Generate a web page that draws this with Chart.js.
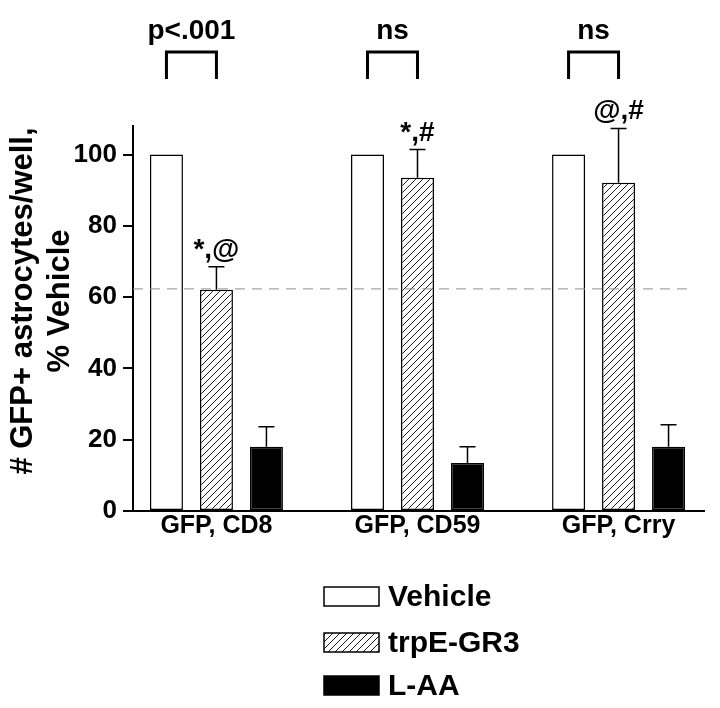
<!DOCTYPE html>
<html><head><meta charset="utf-8">
<script src="https://cdn.jsdelivr.net/npm/chart.js@4.4.1/dist/chart.umd.min.js"></script>
<style>html,body{margin:0;padding:0;background:#fff;}</style>
</head><body>
<canvas id="c" width="720" height="708" style="width:720px;height:708px;display:block"></canvas>
<script>
const categories = ['GFP, CD8', 'GFP, CD59', 'GFP, Crry'];
const seriesNames = ['Vehicle', 'trpE-GR3', 'L-AA'];
const vehicle = [100, 100, 100];
const trpE = [62.1, 93.5, 92.1];
const laa = [18.0, 13.5, 18.0];
const trpEErrTop = [68.5, 101.4, 107.3];
const laaErrTop = [23.6, 18.0, 24.2];
const trpEMarks = ['*,@', '*,#', '@,#'];
const pLabels = ['p<.001', 'ns', 'ns'];
const yTicks = [0, 20, 40, 60, 80, 100];
const refLine = 62.3;
const yTitle = ['# GFP+ astrocytes/well,', '% Vehicle'];

const FONT = "'Liberation Sans', Arial, Helvetica, sans-serif";
const canvas = document.getElementById('c');
const mainCtx = canvas.getContext('2d');

function makeHatch() {
  const s = 7;
  const c = document.createElement('canvas');
  c.width = s; c.height = s;
  const g = c.getContext('2d');
  g.fillStyle = '#fff'; g.fillRect(0, 0, s, s);
  g.strokeStyle = '#000'; g.lineWidth = 0.9;
  g.beginPath();
  g.moveTo(0, s); g.lineTo(s, 0);
  g.moveTo(-1, 1); g.lineTo(1, -1);
  g.moveTo(s - 1, s + 1); g.lineTo(s + 1, s - 1);
  g.stroke();
  return mainCtx.createPattern(c, 'repeat');
}
const hatch = makeHatch();
const fills = ['#ffffff', hatch, '#000000'];

const toXY = arr => arr.map((v, i) => ({ x: i, y: v }));

const annot = {
  id: 'annot',
  afterDatasetsDraw(chart) {
    const ctx = chart.ctx;
    const ys = chart.scales.y;
    const area = chart.chartArea;
    ctx.save();
    // reference dashed line
    const yr = ys.getPixelForValue(refLine);
    ctx.strokeStyle = '#8f8f8f'; ctx.lineWidth = 1; ctx.setLineDash([10, 7]);
    ctx.beginPath(); ctx.moveTo(area.left, yr); ctx.lineTo(area.right - 17, yr); ctx.stroke();
    ctx.setLineDash([]);
    // error bars
    const errSets = [[1, trpEErrTop], [2, laaErrTop]];
    ctx.strokeStyle = '#000'; ctx.lineWidth = 1.5;
    errSets.forEach(([di, tops]) => {
      const meta = chart.getDatasetMeta(di);
      meta.data.forEach((bar, i) => {
        const yt = ys.getPixelForValue(tops[i]);
        ctx.beginPath();
        ctx.moveTo(bar.x, bar.y); ctx.lineTo(bar.x, yt);
        ctx.moveTo(bar.x - 8, yt); ctx.lineTo(bar.x + 8, yt);
        ctx.stroke();
      });
    });
    // marks above trpE bars
    ctx.fillStyle = '#000';
    ctx.font = 'bold 28px ' + FONT;
    ctx.textAlign = 'center'; ctx.textBaseline = 'alphabetic';
    const m1 = chart.getDatasetMeta(1);
    m1.data.forEach((bar, i) => {
      const yt = ys.getPixelForValue(trpEErrTop[i]);
      ctx.fillText(trpEMarks[i], bar.x, yt - 9);
    });
    // brackets and p labels
    const m0 = chart.getDatasetMeta(0);
    ctx.lineWidth = 3;
    m0.data.forEach((bar, i) => {
      const x1 = bar.x, x2 = m1.data[i].x;
      const top = area.top - 74, bot = area.top - 47;
      ctx.beginPath();
      ctx.moveTo(x1, bot); ctx.lineTo(x1, top); ctx.lineTo(x2, top); ctx.lineTo(x2, bot);
      ctx.stroke();
      ctx.font = 'bold 28px ' + FONT;
      ctx.fillText(pLabels[i], (x1 + x2) / 2, area.top - 87);
    });
    // y title
    ctx.font = 'bold 31px ' + FONT;
    ctx.save();
    ctx.translate(32, 301); ctx.rotate(-Math.PI / 2);
    ctx.fillText(yTitle[0], 0, 0);
    ctx.restore();
    ctx.save();
    ctx.translate(69, 301); ctx.rotate(-Math.PI / 2);
    ctx.fillText(yTitle[1], 0, 0);
    ctx.restore();
    // legend
    const boxes = [[587, 19], [633, 19], [676, 19]];
    ctx.font = 'bold 30px ' + FONT;
    ctx.textAlign = 'left'; ctx.textBaseline = 'middle';
    seriesNames.forEach((n, i) => {
      const [by, bh] = boxes[i];
      ctx.fillStyle = fills[i];
      ctx.fillRect(324, by, 55, bh);
      ctx.strokeStyle = '#000'; ctx.lineWidth = 1.5;
      ctx.strokeRect(324, by, 55, bh);
      ctx.fillStyle = '#000';
      ctx.fillText(n, 388, by + bh / 2 + 1);
    });
    ctx.restore();
  }
};

const tickFont = { family: FONT, size: 26, weight: 'bold' };
const xTickFont = { family: FONT, size: 25, weight: 'bold' };

new Chart(canvas, {
  type: 'bar',
  data: {
    datasets: [
      { label: seriesNames[0], data: toXY(vehicle), backgroundColor: fills[0], borderColor: '#000', borderWidth: 1.5, borderSkipped: false },
      { label: seriesNames[1], data: toXY(trpE), backgroundColor: fills[1], borderColor: '#000', borderWidth: 1.5, borderSkipped: false },
      { label: seriesNames[2], data: toXY(laa), backgroundColor: fills[2], borderColor: '#000', borderWidth: 1.5, borderSkipped: false }
    ]
  },
  options: {
    responsive: false, animation: false, devicePixelRatio: 1,
    categoryPercentage: 0.746, barPercentage: 0.66,
    layout: { padding: { top: 126, right: 16, left: 0, bottom: 0 } },
    plugins: { legend: { display: false }, tooltip: { enabled: false } },
    scales: {
      x: {
        type: 'linear', min: -0.415, max: 2.425, offset: false,
        afterBuildTicks: s => { s.ticks = categories.map((_, i) => ({ value: i })); },
        afterFit: s => { s.height = 197; },
        grid: { display: false, drawTicks: false, tickLength: 0 },
        border: { display: true, color: '#000', width: 2 },
        ticks: { callback: (v, i) => categories[i], color: '#000', font: xTickFont, padding: 0, maxRotation: 0, autoSkip: false }
      },
      y: {
        min: 0, max: 108,
        afterBuildTicks: s => { s.ticks = yTicks.map(v => ({ value: v })); },
        afterFit: s => { s.width = 133; },
        grid: { drawOnChartArea: false, drawTicks: true, tickLength: 10, color: '#000', lineWidth: 2 },
        border: { display: true, color: '#000', width: 2 },
        ticks: { color: '#000', font: tickFont, padding: 6 }
      }
    }
  },
  plugins: [annot]
});
</script>
</body></html>
